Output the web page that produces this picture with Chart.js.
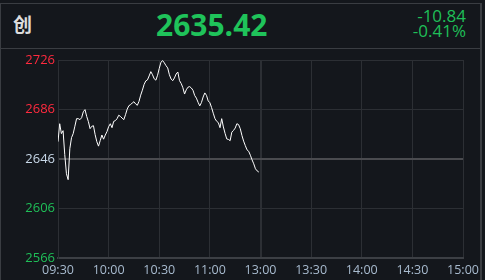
<!DOCTYPE html>
<html>
<head>
<meta charset="utf-8">
<script src="https://cdn.jsdelivr.net/npm/chart.js@4"></script>
<style>
  html, body { margin: 0; padding: 0; background: #14171c; }
  #wrap { position: relative; width: 485px; height: 280px; overflow: hidden; font-family: "Open Sans", "Noto Sans", sans-serif; }
  #chart { position: absolute; left: 0; top: 0; }
  .line { position: absolute; background: #3a3d42; }
  .txt { position: absolute; white-space: nowrap; }
</style>
</head>
<body>
<div id="wrap">
  <div class="line" style="left:0; top:3px; width:482px; height:1px;"></div>
  <div class="line" style="left:0; top:3px; width:1px; height:277px;"></div>
  <div class="line" style="left:480px; top:3px; width:2px; height:277px;"></div>
  <div class="line" style="left:0; top:48px; width:481px; height:1px;"></div>
  <div class="txt" id="name" style="left:13px; top:10px; font-family:'Noto Sans CJK SC'; font-weight:bold; font-size:19px; color:#dcdcdc;"></div>
  <div class="txt" id="last" style="left:156px; top:5px; font-weight:bold; font-size:30px; line-height:40px; color:#1fc35a;"></div>
  <div class="txt" id="chg" style="right:19px; top:8px; font-size:17px; line-height:15px; text-align:right; color:#1fbf58;"></div>
  <canvas id="chart" width="485" height="280"></canvas>
</div>
<script>
const stockName = '创';
const lastPrice = '2635.42';
const change = '-10.84';
const changePct = '-0.41%';

const timeLabels = ['09:30', '10:00', '10:30', '11:00', '13:00', '13:30', '14:00', '14:30', '15:00'];
const yTicks = [2566, 2606, 2646, 2686, 2726];
const prevClose = 2646;

// one value per minute from 09:30
const prices = [
  2660.0, 2674.5, 2666.5, 2668.9, 2649.5, 2634.1, 2629.3, 2654.3, 2663.2, 2666.5,
  2672.5, 2678.6, 2678.6, 2677.8, 2679.4, 2684.2, 2685.9, 2680.4, 2676.2, 2670.5,
  2672.4, 2672.9, 2665.7, 2660.0, 2656.4, 2660.8, 2665.4, 2662.0, 2665.3, 2668.1,
  2672.1, 2674.5, 2671.3, 2676.4, 2677.0, 2678.6, 2681.4, 2680.4, 2679.0, 2677.8,
  2681.8, 2686.3, 2689.1, 2689.9, 2691.3, 2692.3, 2690.5, 2689.4, 2692.6, 2697.6,
  2701.6, 2706.2, 2709.1, 2709.9, 2713.1, 2716.6, 2714.1, 2710.8, 2709.7, 2713.7,
  2719.2, 2724.2, 2725.5, 2723.7, 2721.4, 2719.6, 2714.1, 2710.6, 2709.3, 2711.5,
  2714.7, 2716.3, 2709.3, 2707.0, 2703.6, 2698.5, 2701.9, 2704.0, 2704.5, 2703.4,
  2701.5, 2697.3, 2695.2, 2691.8, 2688.9, 2691.6, 2696.1, 2699.4, 2697.4, 2692.9,
  2691.5, 2687.6, 2683.0, 2678.7, 2676.5, 2675.4, 2671.3, 2678.6, 2671.9, 2666.7,
  2662.2, 2661.8, 2660.8, 2667.7, 2669.1, 2671.0, 2674.5, 2673.8, 2670.5, 2665.0,
  2660.4, 2656.8, 2653.4, 2652.2, 2649.0, 2645.3, 2642.1, 2638.1, 2636.4, 2635.42
];

document.getElementById('name').textContent = stockName;
document.getElementById('last').textContent = lastPrice;
document.getElementById('chg').innerHTML = change + '<br>' + changePct;

const ctx = document.getElementById('chart').getContext('2d');
new Chart(ctx, {
  type: 'line',
  data: {
    datasets: [{
      data: prices.map((p, i) => ({ x: i, y: p })),
      borderColor: '#ffffff',
      borderWidth: 1,
      pointRadius: 0,
      tension: 0
    }]
  },
  options: {
    responsive: false,
    animation: false,
    layout: { padding: { top: 60, right: 22, left: 0, bottom: 0 } },
    plugins: { legend: { display: false }, tooltip: { enabled: false } },
    scales: {
      x: {
        type: 'linear',
        min: 0,
        max: 240,
        afterFit: (scale) => { scale.height = 22; },
        afterBuildTicks: (scale) => { scale.ticks = timeLabels.map((t, i) => ({ value: i * 30 })); },
        ticks: {
          autoSkip: false,
          maxRotation: 0,
          padding: 5,
          color: '#a8bbcf',
          font: { family: 'Open Sans', size: 12.5 },
          callback: (v, i) => timeLabels[i]
        },
        grid: {
          drawTicks: false,
          color: '#2c2f34',
          lineWidth: (c) => (c.tick && c.tick.value === 120 ? 2 : 1)
        },
        border: { color: '#3c3f44', width: 2 }
      },
      y: {
        min: yTicks[0],
        max: yTicks[yTicks.length - 1],
        afterFit: (scale) => { scale.width = 58; },
        afterBuildTicks: (scale) => { scale.ticks = yTicks.map(v => ({ value: v })); },
        ticks: {
          padding: 3,
          font: { family: 'Open Sans', size: 13 },
          color: (c) => {
            const v = c.tick.value;
            if (v > prevClose) return '#ff2a3e';
            if (v < prevClose) return '#1fbf58';
            return '#c8d8e8';
          },
          callback: (v) => String(v)
        },
        grid: {
          drawTicks: false,
          color: (c) => (c.tick && c.tick.value === prevClose ? '#4a4b4f' : '#2c2f34'),
          lineWidth: (c) => (c.tick && c.tick.value === prevClose ? 2 : 1)
        },
        border: { color: '#2c2f34', width: 1 }
      }
    }
  }
});
</script>
</body>
</html>
